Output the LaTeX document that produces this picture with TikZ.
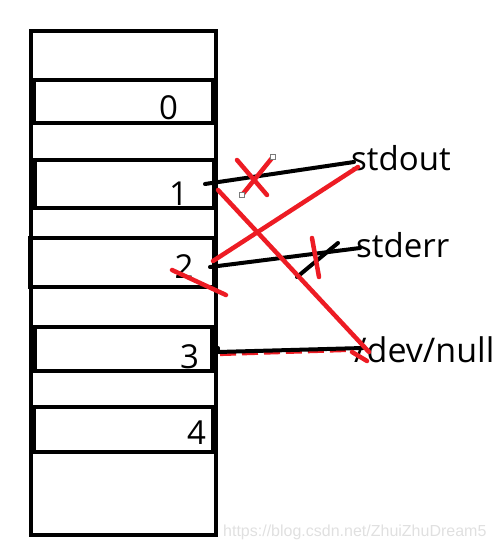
\documentclass[tikz,border=0pt]{standalone}
\usepackage{fontspec}
\setmainfont{Open Sans}
\newfontfamily\wmfont{Liberation Sans}
\definecolor{pred}{HTML}{ED1C24}
\definecolor{handlegray}{HTML}{7A7A7A}
\definecolor{wmgray}{HTML}{E0E0E0}
\tikzset{
  cellbox/.style={draw=black,line width=4.5pt},
  bigtxt/.style={inner sep=0pt,font=\fontsize{33}{40}\selectfont},
  blkline/.style={draw=black,line width=4pt,line cap=round},
  redline/.style={draw=pred,line width=4.5pt,line cap=round},
  handle/.style={draw=handlegray,fill=white,line width=0.8pt,minimum size=4.5pt,inner sep=0pt,rectangle},
  wmtxt/.style={inner sep=0pt,text=wmgray,font=\wmfont\fontsize{16}{18}\selectfont}
}
\begin{document}
\begin{tikzpicture}[x=1pt,y=-1pt]
\useasboundingbox (0,0) rectangle (493,553);
% table of descriptors
\draw[cellbox] (31,31) rectangle (216,535);
\draw[cellbox] (34,80) rectangle (213,123);
\draw[cellbox] (35,160) rectangle (214,208);
\draw[cellbox] (30,238) rectangle (214,287);
\draw[cellbox] (35,327) rectangle (212,371);
\draw[cellbox] (34,407) rectangle (213,452);
% digits
\node[bigtxt,anchor=base] (d0) at (168.5,120) {0};
\node[bigtxt,anchor=base] (d1) at (178.5,205) {1};
\node[bigtxt,anchor=base] (d2) at (184,278) {2};
\node[bigtxt,anchor=base] (d3) at (189.5,368) {3};
\node[bigtxt,anchor=base] (d4) at (196.5,444) {4};
% targets
\node[bigtxt,anchor=base west] (out) at (351,171) {stdout};
\node[bigtxt,anchor=base west] (err) at (356,257) {stderr};
\node[bigtxt,anchor=base west,font=\fontsize{34}{40}\selectfont] (null) at (354,362) {/dev/null};
% endpoints
\coordinate (o1) at (205,184);
\coordinate (e1) at (354,162);
\coordinate (o2) at (210,267);
\coordinate (e2) at (360,248);
\coordinate (o3) at (218,352);
\coordinate (e3) at (363,348);
\coordinate (r2a) at (213,261);
\coordinate (r2b) at (358,167);
\coordinate (r1a) at (218,190);
\coordinate (r1b) at (369,352);
\coordinate (r3a) at (220,354.8);
\coordinate (r3b) at (352,350.6);
% red dashed under 3 -> /dev/null
\draw[draw=pred,line width=2.6pt,dash pattern=on 16pt off 6pt] (r3a) -- (r3b);
% black links
\draw[blkline] (o1) -- (e1);
\draw[blkline] (o2) -- (e2);
\draw[blkline] (o3) -- (e3);
\coordinate (o3s) at (218,348);
\draw[blkline] (o3s) -- (o3);
\coordinate (bs1) at (297,277);
\coordinate (bs2) at (338,243);
\draw[blkline] (bs1) -- (bs2);
% red redirections
\draw[redline] (r2a) -- (r2b);
\draw[redline] (r1a) -- (r1b);
\coordinate (hk1) at (352,352);
\coordinate (hk2) at (367,361);
\draw[redline] (hk1) -- (hk2);
% red crossings
\coordinate (xa1) at (237,160); \coordinate (xa2) at (267,195);
\coordinate (xb1) at (242,195); \coordinate (xb2) at (272,158);
\draw[redline] (xa1) -- (xa2);
\draw[redline] (xb1) -- (xb2);
\coordinate (cr1) at (312,238); \coordinate (cr2) at (319,277);
\draw[redline] (cr1) -- (cr2);
\coordinate (cz1) at (172,270); \coordinate (cz2) at (226,295);
\draw[redline] (cz1) -- (cz2);
% selection handles
\node[handle] (h1) at (273,157) {};
\node[handle] (h2) at (242,195) {};
% watermark
\node[wmtxt,anchor=base west] (wm) at (223,536) {https://blog.csdn.net/ZhuiZhuDream5};
\end{tikzpicture}
\end{document}
